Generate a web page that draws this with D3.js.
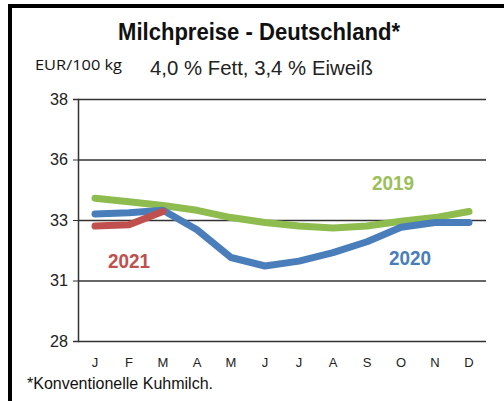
<!DOCTYPE html>
<html>
<head>
<meta charset="utf-8">
<script src="https://cdn.jsdelivr.net/npm/d3@7"></script>
<style>
  html, body { margin: 0; padding: 0; background: #fff; }
  svg { display: block; }
</style>
</head>
<body>
<div id="chart"></div>
<script>
// Monatsdaten (EUR/100 kg)
const months = ['J', 'F', 'M', 'A', 'M', 'J', 'J', 'A', 'S', 'O', 'N', 'D'];
const yTicks = [28, 30.5, 33, 35.5, 38];
const prices2019 = [33.9, 33.75, 33.6, 33.4, 33.1, 32.9, 32.75, 32.67, 32.75, 32.95, 33.1, 33.35];
const prices2020 = [33.25, 33.3, 33.4, 32.6, 31.45, 31.1, 31.3, 31.65, 32.1, 32.7, 32.9, 32.9];
const prices2021 = [32.75, 32.8, 33.35];

const W = 504, H = 401;
const margin = { top: 99, right: 18, bottom: 60, left: 78 };
const width = W - margin.left - margin.right;
const height = H - margin.top - margin.bottom;

const narrow = '"Liberation Sans Narrow", "Liberation Sans", Arial, sans-serif';

const svg = d3.select('#chart')
    .append('svg')
    .attr('width', W)
    .attr('height', H);

// Rahmen (nur oben und links)
svg.append('path')
    .attr('d', `M10,${H} L10,6 L${W},6`)
    .attr('fill', 'none')
    .attr('stroke', '#000')
    .attr('stroke-width', 4);

const g = svg.append('g')
    .attr('transform', `translate(${margin.left},${margin.top})`);

const x = d3.scaleBand()
    .domain(d3.range(months.length))
    .range([0, width]);

const y = d3.scaleLinear()
    .domain([28, 38])
    .range([height, 0]);

// Gitterlinien
g.append('g')
    .call(d3.axisLeft(y).tickValues(yTicks).tickSize(-width).tickFormat(''))
    .call(a => a.select('.domain').remove())
    .selectAll('line')
    .attr('stroke', '#333')
    .attr('stroke-width', 1.5);

// Y-Achse
const yAxis = g.append('g')
    .call(d3.axisLeft(y).tickValues(yTicks).tickSize(5).tickFormat(d3.format('.0f')));
yAxis.select('.domain').attr('stroke', '#333').attr('stroke-width', 1.5);
yAxis.selectAll('line').attr('stroke', '#333');
yAxis.selectAll('text')
    .attr('font-family', narrow)
    .attr('font-size', 17)
    .attr('fill', '#222')
    .attr('x', -10)
    .attr('textLength', 18)
    .attr('lengthAdjust', 'spacingAndGlyphs');

// X-Achse (Monatsbuchstaben)
const xAxis = g.append('g')
    .attr('transform', `translate(0,${height})`)
    .call(d3.axisBottom(x).tickSize(0).tickFormat(i => months[i]));
xAxis.select('.domain').remove();
xAxis.selectAll('text')
    .attr('font-family', '"Liberation Sans", Arial, sans-serif')
    .attr('font-size', 13)
    .attr('fill', '#222')
    .attr('dy', '1.75em');

const line = d3.line()
    .x((d, i) => x(i) + x.bandwidth() / 2)
    .y(d => y(d));

const series = [
    { values: prices2019, color: '#8fbc4f' },
    { values: prices2020, color: '#4a7ebb' },
    { values: prices2021, color: '#c0504d' },
];

series.forEach(s => {
    g.append('path')
        .datum(s.values)
        .attr('fill', 'none')
        .attr('stroke', s.color)
        .attr('stroke-width', 7)
        .attr('stroke-linejoin', 'round')
        .attr('stroke-linecap', 'round')
        .attr('d', line);
});

// Serienbeschriftungen
const labels = [
    { text: '2019', color: '#9bc05a', x: 393, y: 190 },
    { text: '2020', color: '#4a7ebb', x: 410, y: 265 },
    { text: '2021', color: '#c0504d', x: 129, y: 268 },
];
svg.selectAll('.series-label')
    .data(labels)
    .join('text')
    .attr('class', 'series-label')
    .attr('x', d => d.x)
    .attr('y', d => d.y)
    .attr('text-anchor', 'middle')
    .attr('font-family', narrow)
    .attr('font-weight', 'bold')
    .attr('font-size', 21)
    .attr('fill', d => d.color)
    .attr('textLength', 42)
    .attr('lengthAdjust', 'spacingAndGlyphs')
    .text(d => d.text);

// Titel und Untertitel
svg.append('text')
    .attr('x', 259)
    .attr('y', 40)
    .attr('text-anchor', 'middle')
    .attr('font-family', narrow)
    .attr('font-weight', 'bold')
    .attr('font-size', 24)
    .attr('fill', '#111')
    .attr('textLength', 282)
    .attr('lengthAdjust', 'spacingAndGlyphs')
    .text('Milchpreise - Deutschland*');

svg.append('text')
    .attr('x', 35)
    .attr('y', 70)
    .attr('font-family', '"Open Sans", "Noto Sans", sans-serif')
    .attr('font-size', 14)
    .attr('fill', '#111')
    .attr('textLength', 87)
    .attr('lengthAdjust', 'spacingAndGlyphs')
    .text('EUR/100 kg');

svg.append('text')
    .attr('x', 150)
    .attr('y', 75)
    .attr('font-family', narrow)
    .attr('font-size', 21)
    .attr('fill', '#222')
    .attr('textLength', 223)
    .attr('lengthAdjust', 'spacingAndGlyphs')
    .text('4,0 % Fett, 3,4 % Eiweiß');

// Fußnote
svg.append('text')
    .attr('x', 27)
    .attr('y', 389)
    .attr('font-family', narrow)
    .attr('font-size', 16)
    .attr('fill', '#111')
    .attr('textLength', 186)
    .attr('lengthAdjust', 'spacingAndGlyphs')
    .text('*Konventionelle Kuhmilch.');
</script>
</body>
</html>
